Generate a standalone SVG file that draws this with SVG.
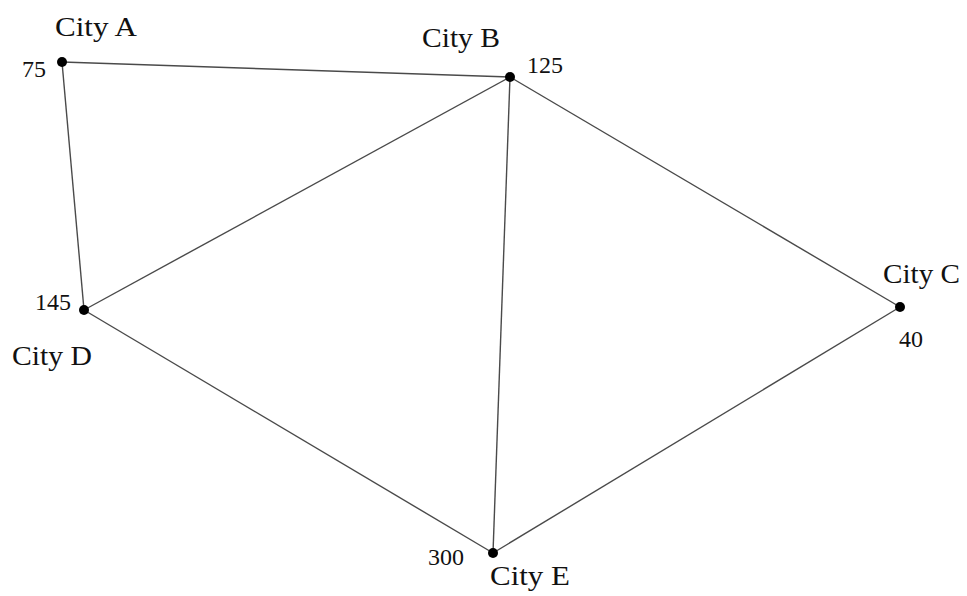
<svg xmlns="http://www.w3.org/2000/svg" width="967" height="596" viewBox="0 0 967 596">
<style>
.edge{stroke:#4a4a4a;stroke-width:1.4;fill:none}
.dot{fill:#000}
.city{font-family:"Liberation Serif","Times New Roman",serif;font-size:27px;fill:#111}
.num{font-family:"Liberation Serif","Times New Roman",serif;font-size:24px;fill:#111}
</style>
<rect width="967" height="596" fill="#fff"/>
<g id="connectors">
<line class="edge" x1="62" y1="62" x2="510" y2="77"/>
<line class="edge" x1="62" y1="62" x2="84" y2="310"/>
<line class="edge" x1="84" y1="310" x2="510" y2="77"/>
<line class="edge" x1="510" y1="77" x2="493" y2="553"/>
<line class="edge" x1="510" y1="77" x2="900" y2="307"/>
<line class="edge" x1="84" y1="310" x2="493" y2="553"/>
<line class="edge" x1="493" y1="553" x2="900" y2="307"/>
</g>
<g id="cityA">
<circle class="dot" cx="62" cy="62" r="5"/>
<text class="city" x="55" y="36" textLength="82" lengthAdjust="spacingAndGlyphs">City A</text>
<text class="num" x="22" y="77">75</text>
</g>
<g id="cityB">
<circle class="dot" cx="510" cy="77" r="5"/>
<text class="city" x="422" y="47" textLength="78" lengthAdjust="spacingAndGlyphs">City B</text>
<text class="num" x="527" y="73">125</text>
</g>
<g id="cityC">
<circle class="dot" cx="900" cy="307" r="5"/>
<text class="city" x="883" y="283" textLength="77" lengthAdjust="spacingAndGlyphs">City C</text>
<text class="num" x="899" y="347">40</text>
</g>
<g id="cityD">
<circle class="dot" cx="84" cy="310" r="5"/>
<text class="city" x="12" y="365" textLength="80" lengthAdjust="spacingAndGlyphs">City D</text>
<text class="num" x="35" y="310">145</text>
</g>
<g id="cityE">
<circle class="dot" cx="493" cy="553" r="5"/>
<text class="city" x="490" y="585" textLength="80" lengthAdjust="spacingAndGlyphs">City E</text>
<text class="num" x="428" y="565">300</text>
</g>
</svg>
